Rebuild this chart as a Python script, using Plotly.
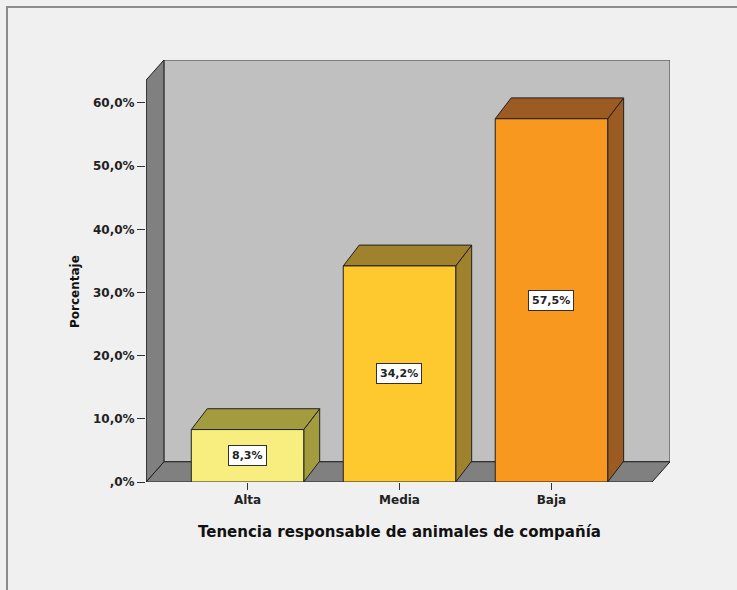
import plotly.graph_objects as go

# ---- data ----
categories = ["Alta", "Media", "Baja"]
values = [8.3, 34.2, 57.5]
value_labels = ["8,3%", "34,2%", "57,5%"]
y_ticks = [0, 10, 20, 30, 40, 50, 60]
y_tick_labels = [",0%", "10,0%", "20,0%", "30,0%", "40,0%", "50,0%", "60,0%"]
front_colors = ["#f8ee80", "#fdc92f", "#f8981f"]
side_colors = ["#a39c3e", "#a0822e", "#9b5b22"]

# ---- layout geometry ----
W, H = 737, 590
ml, mr, mt, mb = 146, 67, 60, 108
x_left, x_right = -0.668, 2.78
wall_top = 63.6
dx, dy = 0.118, 3.2          # depth of the walls (data units)
bdx, bdy = 0.105, 3.3        # depth of the bars
bar_w = 0.74
FONT = "DejaVu Sans"

pw = W - ml - mr
ph = H - mt - mb


def px_to_paper_x(px):
    return (px - ml) / pw


def py_to_paper_y(py):
    return (H - mb - py) / ph


xs = list(range(len(categories)))

shapes = []
# back wall
shapes.append(dict(type="rect", xref="x", yref="y", x0=x_left + dx, x1=x_right,
                   y0=dy, y1=wall_top + dy, fillcolor="#c0c0c0",
                   line=dict(color="#3a3a3a", width=1), layer="below"))
# floor
floor_right = x_right - dx
shapes.append(dict(type="path", xref="x", yref="y",
                   path=f"M {x_left},0 L {floor_right},0 L {x_right},{dy} L {x_left + dx},{dy} Z",
                   fillcolor="#808080", line=dict(color="#202020", width=1), layer="below"))
# left wall
shapes.append(dict(type="path", xref="x", yref="y",
                   path=f"M {x_left},0 L {x_left},{wall_top} L {x_left + dx},{wall_top + dy} L {x_left + dx},{dy} Z",
                   fillcolor="#808080", line=dict(color="#202020", width=1), layer="below"))

# bar sides and tops
for i, v in enumerate(values):
    xl = xs[i] - bar_w / 2
    xr = xs[i] + bar_w / 2
    shapes.append(dict(type="path", xref="x", yref="y",
                       path=f"M {xr},0 L {xr + bdx},{bdy} L {xr + bdx},{v + bdy} L {xr},{v} Z",
                       fillcolor=side_colors[i], line=dict(color="#202020", width=1), layer="below"))
    shapes.append(dict(type="path", xref="x", yref="y",
                       path=f"M {xl},{v} L {xr},{v} L {xr + bdx},{v + bdy} L {xl + bdx},{v + bdy} Z",
                       fillcolor=side_colors[i], line=dict(color="#202020", width=1), layer="below"))

# outer frame (top and left border)
shapes.append(dict(type="line", xref="paper", yref="paper",
                   x0=px_to_paper_x(6), x1=px_to_paper_x(740),
                   y0=py_to_paper_y(7), y1=py_to_paper_y(7),
                   line=dict(color="#8c8c8c", width=2)))
shapes.append(dict(type="line", xref="paper", yref="paper",
                   x0=px_to_paper_x(7), x1=px_to_paper_x(7),
                   y0=py_to_paper_y(6), y1=py_to_paper_y(595),
                   line=dict(color="#8c8c8c", width=2)))

fig = go.Figure()
fig.add_trace(go.Bar(
    x=xs, y=values, width=bar_w,
    marker=dict(color=front_colors, line=dict(color="#202020", width=1)),
    hoverinfo="skip", showlegend=False,
))

annotations = []
for i, v in enumerate(values):
    annotations.append(dict(x=xs[i], y=v / 2, xref="x", yref="y", text=value_labels[i],
                            showarrow=False, bgcolor="white", bordercolor="#303030",
                            borderwidth=1, borderpad=3, xanchor="center", yanchor="middle",
                            font=dict(family=FONT, size=11, color="#222", weight="bold")))

annotations.append(dict(x=px_to_paper_x(75), y=py_to_paper_y(292), xref="paper", yref="paper",
                        text="Porcentaje", textangle=-90, showarrow=False,
                        xanchor="center", yanchor="middle",
                        font=dict(family=FONT, size=12, color="#111", weight="bold")))
annotations.append(dict(x=px_to_paper_x(399), y=py_to_paper_y(532), xref="paper", yref="paper",
                        text="Tenencia responsable de animales de compañía", showarrow=False,
                        xanchor="center", yanchor="middle",
                        font=dict(family=FONT, size=15, color="#111", weight="bold")))

fig.update_layout(
    width=W, height=H,
    margin=dict(l=ml, r=mr, t=mt, b=mb, pad=0),
    paper_bgcolor="#f0f0f0",
    plot_bgcolor="rgba(0,0,0,0)",
    shapes=shapes,
    annotations=annotations,
    xaxis=dict(range=[x_left, x_right], tickvals=xs, ticktext=categories,
               ticks="outside", ticklen=7, tickcolor="#333", tickwidth=1,
               showgrid=False, zeroline=False, showline=False, fixedrange=True,
               tickfont=dict(family=FONT, size=12, color="#222", weight="bold")),
    yaxis=dict(range=[0, wall_top + dy], tickvals=y_ticks, ticktext=y_tick_labels,
               ticks="outside", ticklen=8, tickcolor="#333", tickwidth=1,
               showgrid=False, zeroline=False, showline=False, fixedrange=True,
               tickfont=dict(family=FONT, size=12, color="#222", weight="bold")),
)

# front-left edge of the left wall acts as the y axis line
fig.add_shape(type="line", xref="x", yref="y", x0=x_left, x1=x_left, y0=0, y1=wall_top,
              line=dict(color="#202020", width=1))

fig.write_html(
    "out.html",
    config={"displayModeBar": False},
    post_script="document.body.style.margin='0';document.body.style.background='#f0f0f0';",
)
